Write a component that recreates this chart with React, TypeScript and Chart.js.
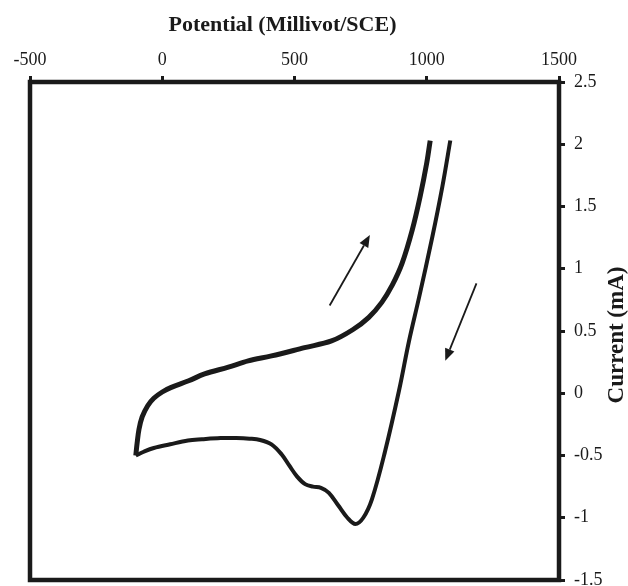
import React, { useEffect, useRef } from "react";
import { Chart, registerables } from "chart.js";

Chart.register(...registerables);

const xTitle = "Potential (Millivot/SCE)";
const yTitle = "Current (mA)";

// Anodic (forward) sweep: potential (mV), current (mA)
const forwardX = [-100, -95, -88, -76, -55, -32, 0, 32, 100, 160, 250, 325, 413, 538, 640, 720, 781, 830, 870, 907, 945, 975, 1000, 1013];
const forwardY = [-0.5, -0.4, -0.29, -0.19, -0.1, -0.04, 0.01, 0.045, 0.1, 0.155, 0.21, 0.26, 0.3, 0.366, 0.42, 0.51, 0.61, 0.73, 0.87, 1.045, 1.31, 1.58, 1.85, 2.03];

// Cathodic (reverse) sweep
const reverseX = [1089, 1059, 1021, 971, 933, 895, 842, 793, 760, 730, 700, 665, 630, 600, 570, 540, 510, 480, 451, 413, 370, 330, 280, 220, 150, 97, 30, -32, -70, -100];
const reverseY = [2.03, 1.66, 1.255, 0.77, 0.42, 0.02, -0.47, -0.85, -1.0, -1.05, -1.0, -0.9, -0.8, -0.76, -0.75, -0.73, -0.67, -0.58, -0.49, -0.41, -0.375, -0.365, -0.36, -0.36, -0.37, -0.38, -0.41, -0.44, -0.47, -0.5];

// Direction arrows: [startX, startY, tipX, tipY]
const arrowUp = [633, 0.705, 785, 1.271];
const arrowDown = [1188, 0.883, 1070, 0.261];

const xTicks = [-500, 0, 500, 1000, 1500];
const yTicks = [-1.5, -1, -0.5, 0, 0.5, 1, 1.5, 2, 2.5];

const INK = "#1a1a1a";
const SERIF = "'Liberation Serif', 'Times New Roman', serif";

const toPts = (xs: number[], ys: number[]) => xs.map((x, i) => ({ x, y: ys[i] }));

const framePlugin = {
  id: "frame",
  afterDatasetsDraw(chart: any) {
    const { ctx, chartArea, scales } = chart;
    ctx.save();
    ctx.strokeStyle = INK;
    ctx.lineWidth = 4.5;
    ctx.strokeRect(chartArea.left, chartArea.top, chartArea.right - chartArea.left, chartArea.bottom - chartArea.top);
    const drawArrow = (a: number[]) => {
      const x0 = scales.x.getPixelForValue(a[0]);
      const y0 = scales.y.getPixelForValue(a[1]);
      const x1 = scales.x.getPixelForValue(a[2]);
      const y1 = scales.y.getPixelForValue(a[3]);
      const ang = Math.atan2(y1 - y0, x1 - x0);
      const hl = 12;
      const hw = 5;
      const bx = x1 - hl * Math.cos(ang);
      const by = y1 - hl * Math.sin(ang);
      ctx.strokeStyle = INK;
      ctx.fillStyle = INK;
      ctx.lineWidth = 1.8;
      ctx.beginPath();
      ctx.moveTo(x0, y0);
      ctx.lineTo(bx, by);
      ctx.stroke();
      ctx.beginPath();
      ctx.moveTo(x1, y1);
      ctx.lineTo(bx + hw * Math.sin(ang), by - hw * Math.cos(ang));
      ctx.lineTo(bx - hw * Math.sin(ang), by + hw * Math.cos(ang));
      ctx.closePath();
      ctx.fill();
    };
    drawArrow(arrowUp);
    drawArrow(arrowDown);

    // axis titles
    ctx.fillStyle = INK;
    ctx.textAlign = "center";
    ctx.textBaseline = "middle";
    ctx.font = `bold 22px ${SERIF}`;
    ctx.fillText(xTitle, (chartArea.left + chartArea.right) / 2 - 12, 25);
    ctx.save();
    ctx.translate(617, (chartArea.top + chartArea.bottom) / 2 + 4);
    ctx.rotate(-Math.PI / 2);
    ctx.font = `bold 23px ${SERIF}`;
    ctx.fillText(yTitle, 0, 0);
    ctx.restore();
    ctx.restore();
  },
};

export default function App() {
  const ref = useRef<HTMLCanvasElement | null>(null);
  useEffect(() => {
    if (!ref.current) return;
    const chart = new Chart(ref.current, {
      type: "scatter",
      data: {
        datasets: [
          {
            data: toPts(forwardX, forwardY),
            showLine: true,
            borderColor: INK,
            borderWidth: 5,
            pointRadius: 0,
            tension: 0.35,
          },
          {
            data: toPts(reverseX, reverseY),
            showLine: true,
            borderColor: INK,
            borderWidth: 4,
            pointRadius: 0,
            tension: 0.35,
          },
        ],
      },
      options: {
        animation: false,
        responsive: false,
        layout: { padding: { left: 30, top: 0, bottom: 6, right: 0 } },
        plugins: { legend: { display: false }, tooltip: { enabled: false } },
        scales: {
          x: {
            type: "linear",
            position: "top",
            min: -500,
            max: 1500,
            afterBuildTicks: (s: any) => { s.ticks = xTicks.map((v) => ({ value: v })); },
            afterFit: (s: any) => { s.height = 82; s.paddingLeft = 0; s.paddingRight = 0; },
            ticks: { color: INK, font: { family: SERIF, size: 18 }, padding: 5, maxRotation: 0, callback: (v: any) => String(v) },
            grid: { drawOnChartArea: false, drawTicks: true, tickLength: 6, tickWidth: 3, tickColor: INK },
            border: { display: true, width: 4, color: INK },
            title: { display: false },
          },
          y: {
            type: "linear",
            position: "right",
            min: -1.5,
            max: 2.5,
            afterBuildTicks: (s: any) => { s.ticks = yTicks.map((v) => ({ value: v })); },
            afterFit: (s: any) => { s.width = 69; s.paddingTop = 0; s.paddingBottom = 0; },
            ticks: { color: INK, font: { family: SERIF, size: 18 }, padding: 9, callback: (v: any) => String(v) },
            grid: { drawOnChartArea: false, drawTicks: true, tickLength: 6, tickWidth: 3, tickColor: INK },
            border: { display: true, width: 4, color: INK },
            title: { display: false },
          },
        },
      },
      plugins: [framePlugin],
    } as any);
    return () => chart.destroy();
  }, []);
  return (
    <div style={{ position: "fixed", left: 0, top: 0, width: 628, height: 586, background: "#fff" }}>
      <canvas ref={ref} width={628} height={586} style={{ display: "block" }} />
    </div>
  );
}
